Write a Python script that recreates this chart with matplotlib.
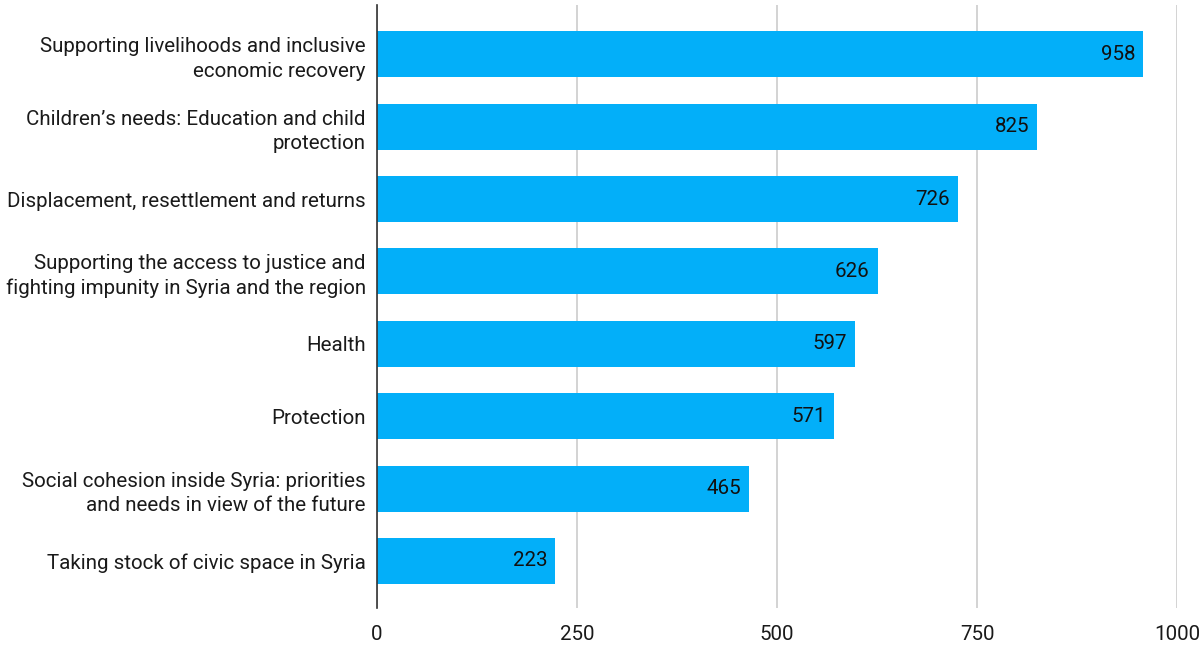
import matplotlib
matplotlib.use('Agg')
import matplotlib.pyplot as plt

categories = [
    "Supporting livelihoods and inclusive\neconomic recovery",
    "Children\u2019s needs: Education and child\nprotection",
    "Displacement, resettlement and returns",
    "Supporting the access to justice and\nfighting impunity in Syria and the region",
    "Health",
    "Protection",
    "Social cohesion inside Syria: priorities\nand needs in view of the future",
    "Taking stock of civic space in Syria",
]
values = [958, 825, 726, 626, 597, 571, 465, 223]
xticks = [0, 250, 500, 750, 1000]

BAR_COLOR = '#03aff9'


def main():
    plt.rcParams['font.family'] = ['Roboto', 'DejaVu Sans']
    fig = plt.figure(figsize=(11.99, 6.45), dpi=100)
    ax = fig.add_axes([0.3144, 0.0574, 0.6673, 0.9348])

    y = list(range(len(categories)))
    ax.barh(y, values, height=0.635, color=BAR_COLOR, zorder=3)

    # подписи значений внутри конца столбца
    for yi, v in zip(y, values):
        ax.text(v - 10, yi, str(v), ha='right', va='center',
                fontsize=14.8, color='#111111', zorder=4)

    ax.set_xlim(0, 1000)
    ax.set_ylim(7.65, -0.68)
    ax.set_yticks(y)
    ax.set_yticklabels(categories, fontsize=14.8, color='#1a1a1a', linespacing=1.35)
    ax.set_xticks(xticks)
    ax.set_xticklabels([str(t) for t in xticks], fontsize=14.8, color='#1a1a1a')

    ax.grid(axis='x', color='#cccccc', lw=1.2, zorder=0)
    ax.tick_params(length=0)
    ax.tick_params(axis='x', pad=12)
    ax.tick_params(axis='y', pad=8)
    for s in ['top', 'right', 'bottom']:
        ax.spines[s].set_visible(False)
    ax.spines['left'].set_color('#333333')
    ax.spines['left'].set_linewidth(1.2)
    ax.spines['left'].set_zorder(5)

    fig.savefig('out.png', dpi=100)


if __name__ == "__main__":
    main()
